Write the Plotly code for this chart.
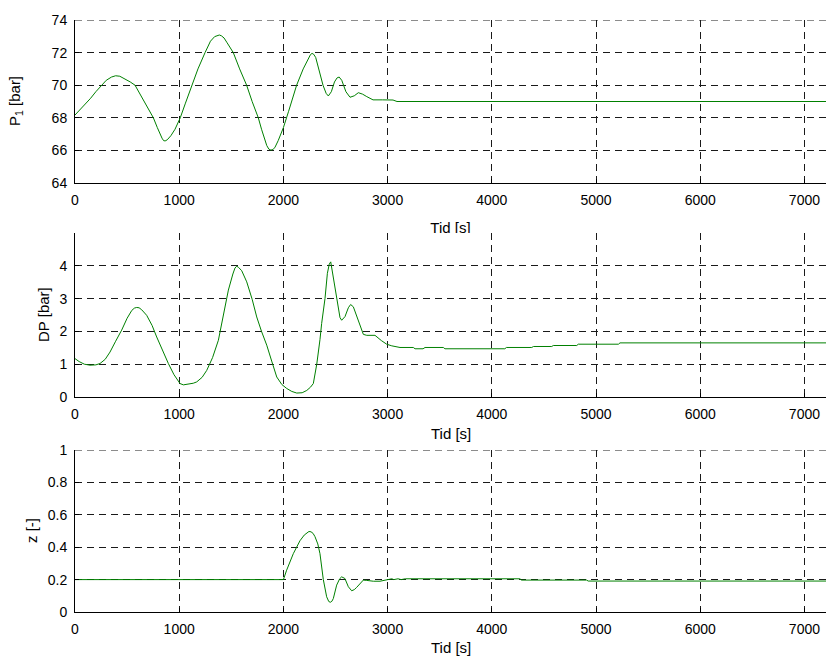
import plotly.graph_objects as go

# ---- data -------------------------------------------------------------
t_p1 = [0, 50, 100, 150, 200, 256, 300, 350, 390, 430, 480, 530, 576, 620, 660,
        700, 752, 790, 815, 835, 850, 865, 885, 920, 960, 1010, 1060, 1120,
        1180, 1248, 1300, 1340, 1365, 1385, 1405, 1430, 1460, 1519, 1580, 1647,
        1700, 1759, 1790, 1820, 1840, 1860, 1880, 1900, 1920, 1950, 2000, 2050,
        2127, 2190, 2240, 2260, 2275, 2290, 2310, 2340, 2380, 2410, 2431, 2460,
        2490, 2515, 2535, 2560, 2600, 2639, 2680, 2719, 2760, 2800, 2860, 2950,
        3052, 3090, 4000, 5000, 6000, 7207]
p1 = [68.17, 68.5, 68.85, 69.2, 69.6, 70.0, 70.3, 70.5, 70.58, 70.55, 70.4,
      70.2, 70.0, 69.5, 69.0, 68.5, 68.0, 67.4, 67.0, 66.75, 66.6, 66.58, 66.65,
      66.9, 67.3, 68.0, 68.9, 70.0, 71.0, 72.0, 72.7, 72.98, 73.06, 73.08,
      73.03, 72.9, 72.6, 72.0, 71.0, 70.0, 69.0, 68.0, 67.3, 66.6, 66.3, 66.08,
      66.02, 66.05, 66.2, 66.6, 67.4, 68.4, 70.0, 71.0, 71.7, 71.88, 71.95,
      71.9, 71.7, 71.0, 70.0, 69.5, 69.34, 69.6, 70.2, 70.45, 70.5, 70.3, 69.6,
      69.26, 69.35, 69.54, 69.45, 69.3, 69.1, 69.1, 69.09, 69.0, 69.0, 69.0,
      69.0, 69.0]

t_dp = [0, 40, 90, 144, 200, 240, 290, 336, 390, 448, 500, 545, 570, 592, 615,
        640, 688, 740, 784, 840, 896, 950, 1008, 1040, 1072, 1100, 1135, 1168,
        1220, 1264, 1320, 1376, 1420, 1472, 1515, 1535, 1552, 1570, 1600, 1648,
        1700, 1744, 1790, 1840, 1890, 1936, 1985, 2032, 2080, 2128, 2180, 2224,
        2260, 2287, 2320, 2335, 2351, 2367, 2383, 2399, 2422, 2440, 2454, 2479,
        2511, 2543, 2559, 2591, 2623, 2645, 2671, 2703, 2735, 2767, 2800, 2879,
        2940, 2991, 3040, 3087, 3119, 3247, 3263, 3340, 3359, 3535, 3550, 4125,
        4140, 4383, 4400, 4575, 4590, 4815, 4830, 5215, 5230, 7207]
dp = [1.17, 1.08, 1.0, 0.97, 0.98, 1.02, 1.15, 1.37, 1.70, 2.04, 2.40, 2.64,
      2.71, 2.73, 2.72, 2.66, 2.49, 2.18, 1.83, 1.42, 1.02, 0.68, 0.41, 0.37,
      0.38, 0.39, 0.42, 0.46, 0.60, 0.81, 1.20, 1.73, 2.45, 3.26, 3.75, 3.93,
      3.99, 3.95, 3.85, 3.51, 2.98, 2.44, 2.00, 1.58, 1.07, 0.61, 0.38, 0.26,
      0.17, 0.12, 0.13, 0.20, 0.30, 0.41, 1.00, 1.32, 1.75, 2.24, 2.62, 3.00,
      3.77, 4.05, 4.12, 3.66, 2.95, 2.42, 2.34, 2.45, 2.72, 2.82, 2.75, 2.45,
      2.15, 1.91, 1.88, 1.88, 1.72, 1.61, 1.56, 1.53, 1.51, 1.51, 1.47, 1.47,
      1.51, 1.51, 1.47, 1.47, 1.51, 1.51, 1.54, 1.54, 1.57, 1.57, 1.61, 1.61,
      1.65, 1.65]

t_z = [0, 2000, 2031, 2063, 2095, 2127, 2159, 2200, 2225, 2245, 2265, 2285,
       2303, 2330, 2351, 2383, 2415, 2435, 2450, 2465, 2479, 2511, 2540, 2559,
       2590, 2623, 2655, 2680, 2703, 2767, 2800, 2863, 2927, 3007, 3040, 3060,
       3100, 3130, 3170, 4270, 4285, 4910, 4925, 7207]
z = [0.2, 0.2, 0.258, 0.31, 0.36, 0.40, 0.44, 0.475, 0.490, 0.497, 0.495,
     0.485, 0.465, 0.42, 0.36, 0.2, 0.094, 0.065, 0.06, 0.066, 0.083, 0.166,
     0.205, 0.217, 0.207, 0.156, 0.131, 0.138, 0.152, 0.197, 0.195, 0.19, 0.19,
     0.2, 0.205, 0.2, 0.205, 0.2, 0.205, 0.205, 0.197, 0.197, 0.191, 0.191]

x_ticks = [0, 1000, 2000, 3000, 4000, 5000, 6000, 7000]
p1_ticks = [64, 66, 68, 70, 72, 74]
dp_ticks = [0, 1, 2, 3, 4]
z_ticks = [0, 0.2, 0.4, 0.6, 0.8, 1]
z_ticktext = ["0", "0.2", "0.4", "0.6", "0.8", "1"]

x_label = "Tid [s]"
y_labels = ["P<sub>1</sub> [bar]", "DP [bar]", "z [-]"]

# ---- styling ----------------------------------------------------------
FONT = "Liberation Sans, Arial, Helvetica, sans-serif"
TICK_SIZE = 14
LABEL_SIZE = 15
LINE_COLOR = "#008000"
GRID_COLOR = "#1a1a1a"
GRID_DASH = "7px,5px"
W, H = 826, 656
M_L, M_R, M_T, M_B = 75, 0, 20, 44
PH = H - M_T - M_B  # plotting height in px
PW = W - M_L - M_R


def py2paper(py):
    return (H - M_B - py) / PH


def px2paper(px):
    return (px - M_L) / PW


domains = [
    [py2paper(183), py2paper(20)],
    [py2paper(397), py2paper(233)],
    [py2paper(612), py2paper(450)],
]

common_axis = dict(
    showline=True, linecolor="black", linewidth=1,
    ticks="inside", ticklen=4, tickcolor="black", tickwidth=1,
    showgrid=True, gridcolor=GRID_COLOR, gridwidth=1, griddash=GRID_DASH,
    zeroline=False,
    tickfont=dict(family=FONT, size=TICK_SIZE, color="black"),
)

fig = go.Figure()

series = [(t_p1, p1), (t_dp, dp), (t_z, z)]
for i, (tx, ty) in enumerate(series):
    suffix = "" if i == 0 else str(i + 1)
    fig.add_trace(go.Scatter(
        x=tx, y=ty, mode="lines",
        line=dict(color=LINE_COLOR, width=1),
        xaxis="x" + suffix, yaxis="y" + suffix,
        showlegend=False, hoverinfo="skip",
    ))

# axis label below the top panel, partly covered by the middle panel
fig.add_trace(go.Scatter(
    x=[0.5], y=[0.2], mode="text", text=[x_label],
    textfont=dict(family=FONT, size=LABEL_SIZE, color="black"),
    textposition="middle center", cliponaxis=True,
    xaxis="x4", yaxis="y4", showlegend=False, hoverinfo="skip",
))

layout = dict(
    width=W, height=H,
    margin=dict(l=M_L, r=M_R, t=M_T, b=M_B, pad=0),
    paper_bgcolor="white", plot_bgcolor="white",
    showlegend=False,
)

y_cfg = [
    dict(range=[64, 74], tickvals=p1_ticks),
    dict(range=[0, 5], tickvals=dp_ticks),
    dict(range=[0, 1], tickvals=z_ticks, ticktext=z_ticktext),
]

for i in range(3):
    suffix = "" if i == 0 else str(i + 1)
    layout["xaxis" + suffix] = dict(
        common_axis, domain=[0, 1], range=[0, 7207], tickvals=x_ticks,
        anchor="y" + suffix, ticklabelstandoff=4,
    )
    layout["yaxis" + suffix] = dict(
        common_axis, domain=domains[i], anchor="x" + suffix,
        ticklabelstandoff=4, **y_cfg[i],
    )

layout["xaxis4"] = dict(domain=[0, 1], range=[0, 1], visible=False, anchor="y4",
                        fixedrange=True)
layout["yaxis4"] = dict(domain=[py2paper(233), py2paper(212)], range=[0, 1],
                        visible=False, anchor="x4", fixedrange=True)

# gridlines along the top edge of the first and last panels
shapes = []
for yref, yval in (("y", p1_ticks[-1]), ("y3", z_ticks[-1])):
    shapes.append(dict(
        type="line", xref="x domain", x0=0, x1=1,
        yref=yref, y0=yval, y1=yval,
        line=dict(color=GRID_COLOR, width=1, dash=GRID_DASH),
        layer="below",
    ))
layout["shapes"] = shapes

annotations = []
# x-axis labels of the middle and bottom panels
for py in (433, 647):
    annotations.append(dict(
        text=x_label, xref="paper", yref="paper", x=0.5, y=py2paper(py),
        xanchor="center", yanchor="middle", showarrow=False,
        font=dict(family=FONT, size=LABEL_SIZE, color="black"),
    ))
# y-axis labels
for lbl, px, py in zip(y_labels, (15, 43, 31), (101, 315, 531)):
    annotations.append(dict(
        text=lbl, xref="paper", yref="paper", x=px2paper(px), y=py2paper(py),
        xanchor="center", yanchor="middle", textangle=-90, showarrow=False,
        font=dict(family=FONT, size=LABEL_SIZE, color="black"),
    ))
layout["annotations"] = annotations

fig.update_layout(**layout)
fig.write_html("out.html")
